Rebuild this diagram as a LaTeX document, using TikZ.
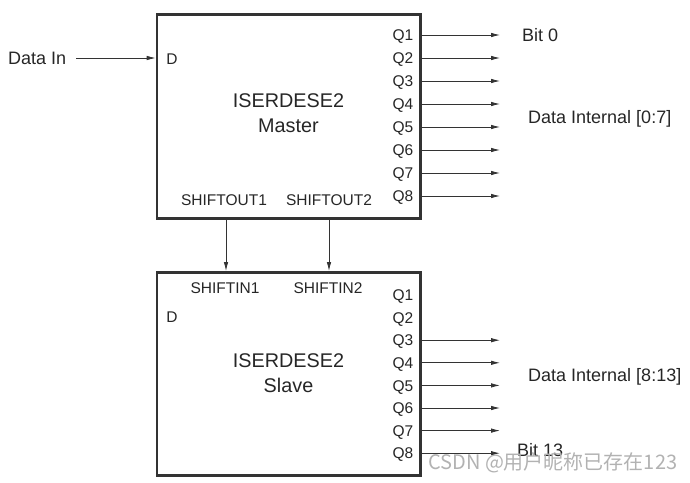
\documentclass[tikz,border=0pt]{standalone}
\usepackage{fontspec}
\setmainfont{Liberation Sans}
\newfontfamily\cjk{Noto Sans CJK SC}
\usetikzlibrary{arrows.meta}
\begin{document}
\begin{tikzpicture}[x=1pt,y=-1pt,
  blk/.style={draw=black!80, line width=2.6pt, minimum width=263.4pt, minimum height=204pt, inner sep=0pt},
  pin/.style={font=\fontsize{15.5}{17}\selectfont, inner sep=0pt, text=black!85, anchor=base, yshift=-5.6pt},
  lbl/.style={font=\fontsize{18}{20}\selectfont, inner sep=0pt, text=black!85, anchor=base west, yshift=-6.4pt},
  title/.style={font=\fontsize{19.8}{25}\selectfont, inner sep=0pt, text=black!85, align=center},
  arr/.style={draw=black!80, line width=0.8pt, -{Latex[length=9pt,width=4.5pt]}}]
\useasboundingbox (0,0) rectangle (690,482);
% blocks
\node[blk] (m) at (288.7,116.7) {};
\node[blk, minimum height=203pt] (s) at (288.7,373.8) {};
\node[title] (mt) at (288.5,113.5) {ISERDESE2\\Master};
\node[title] (st) at (288.5,373.5) {ISERDESE2\\Slave};
% data in
\path (8,58) coordinate (din) node[lbl] (datain) {Data In};
\node[pin] (dm) at (172,59) {D};
\node[pin] (ds) at (172,317) {D};
\coordinate (dstart) at (76,58);
\draw[arr] (dstart) -- (dstart -| m.west);
% master outputs
\coordinate (endx) at (500,0);
\foreach \i in {1,...,8}{
  \path (403,{35+23*(\i-1)}) coordinate (rm\i) node[pin] (qm\i) {Q\i};
  \draw[arr] (rm\i -| m.east) -- (rm\i -| endx);
}
% slave outputs
\foreach \i in {1,...,8}{
  \path (403,{295+22.6*(\i-1)}) coordinate (rs\i) node[pin] (qs\i) {Q\i};
}
\foreach \i in {3,...,8}{
  \draw[arr] (rs\i -| s.east) -- (rs\i -| endx);
}
% shift labels
\node[pin] (so1) at (224,200) {SHIFTOUT1};
\node[pin] (so2) at (329,200) {SHIFTOUT2};
\node[pin] (si1) at (225,288) {SHIFTIN1};
\node[pin] (si2) at (328,288) {SHIFTIN2};
\coordinate (c1) at (226,0);
\coordinate (c2) at (329,0);
\draw[arr] (c1 |- m.south) -- (c1 |- s.north);
\draw[arr] (c2 |- m.south) -- (c2 |- s.north);
% right labels
\node[lbl] (b0) at (522,35) {Bit 0};
\node[lbl] (dim) at (528,117) {Data Internal [0:7]};
\node[lbl] (dis) at (528,375) {Data Internal [8:13]};
\node[lbl] (b13) at (517,450) {Bit 13};
% watermark
\node[anchor=west, inner sep=0pt, text=black!30, font=\cjk\fontsize{20}{21}\selectfont] (wm) at (428,463) {CSDN @用户昵称已存在123};
\end{tikzpicture}
\end{document}
